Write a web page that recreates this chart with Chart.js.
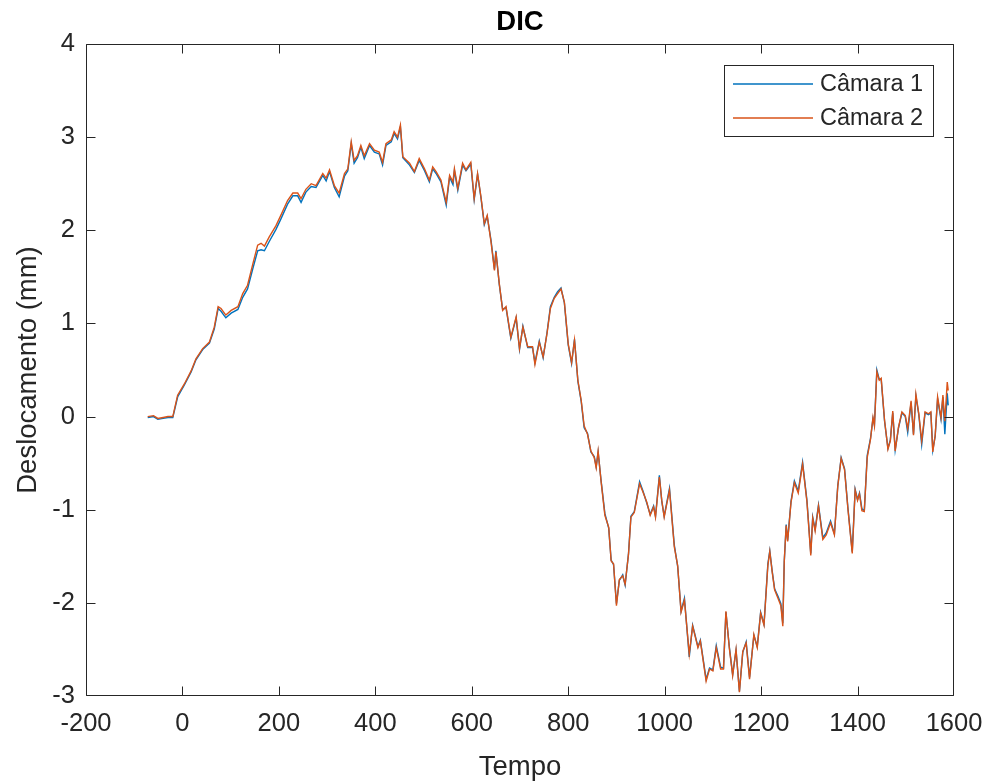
<!DOCTYPE html>
<html lang="pt">
<head>
    <meta charset="UTF-8">
    <title>DIC</title>
    <style>
        html, body { margin: 0; padding: 0; background: #ffffff; }
        .chart-container { width: 989px; height: 782px; }
    </style>
    <script src="https://cdn.jsdelivr.net/npm/chart.js@4.4.1/dist/chart.umd.min.js"></script>
</head>
<body>
    <div class="chart-container">
        <canvas id="dicChart" width="989" height="782"></canvas>
    </div>
    <script>
        // Tempo (eixo x)
        const tempo = [
            -72, -60, -51, -40, -30, -20, -10, 4, 18, 28,
            42, 56, 66, 74, 80, 90, 101, 115, 125, 135,
            146, 156, 163, 170, 180, 194, 204, 218, 229, 239,
            246, 256, 267, 277, 291, 298, 305, 315, 325, 336,
            343, 350, 356, 363, 370, 377, 388, 398, 408, 415,
            422, 433, 439, 446, 452, 457, 471, 481, 491, 502,
            512, 519, 526, 536, 547, 554, 561, 564, 571, 581,
            588, 598, 605, 612, 619, 626, 632, 640, 647, 650,
            657, 664, 671, 681, 692, 699, 706, 716, 726, 731,
            740, 748, 756, 763, 771, 778, 785, 792, 800, 807,
            813, 820, 827, 833, 840, 847, 854, 858, 862, 868,
            876, 884, 889, 894, 900, 906, 913, 918, 925, 930,
            937, 948, 955, 963, 970, 977, 981, 989, 994, 999,
            1010, 1020, 1027, 1034, 1041, 1051, 1058, 1069, 1074, 1086,
            1093, 1100, 1107, 1116, 1122, 1127, 1134, 1141, 1148, 1155,
            1162, 1169, 1176, 1185, 1192, 1199, 1206, 1214, 1218, 1223,
            1228, 1235, 1241, 1245, 1248, 1252, 1255, 1262, 1269, 1277,
            1286, 1295, 1303, 1307, 1312, 1319, 1328, 1335, 1344, 1352,
            1359, 1366, 1373, 1380, 1389, 1395, 1400, 1404, 1409, 1414,
            1420, 1427, 1432, 1435, 1440, 1445, 1449, 1456, 1463, 1468,
            1473, 1478, 1485, 1492, 1499, 1504, 1511, 1516, 1521, 1527,
            1533, 1540, 1547, 1552, 1556, 1561, 1566, 1573, 1577, 1581,
            1586, 1588
        ];

        // Deslocamento (mm) - Câmara 1
        const camara1 = [
            -0.01, 0, -0.03, -0.02, -0.01, -0.01, 0.21, 0.34, 0.48, 0.61,
            0.72, 0.79, 0.94, 1.16, 1.13, 1.06, 1.11, 1.15, 1.28, 1.37,
            1.59, 1.78, 1.79, 1.78, 1.88, 2.01, 2.12, 2.28, 2.37, 2.37,
            2.30, 2.41, 2.47, 2.46, 2.59, 2.53, 2.63, 2.46, 2.36, 2.58,
            2.64, 2.93, 2.72, 2.78, 2.89, 2.77, 2.91, 2.84, 2.82, 2.70,
            2.91, 2.95, 3.04, 2.98, 3.11, 2.78, 2.70, 2.62, 2.75, 2.64,
            2.52, 2.66, 2.61, 2.52, 2.27, 2.57, 2.49, 2.64, 2.43, 2.70,
            2.64, 2.71, 2.33, 2.60, 2.35, 2.06, 2.15, 1.89, 1.58, 1.78,
            1.42, 1.15, 1.17, 0.84, 1.06, 0.72, 0.97, 0.74, 0.74, 0.58,
            0.81, 0.63, 0.90, 1.18, 1.28, 1.34, 1.38, 1.22, 0.77, 0.57,
            0.83, 0.38, 0.16, -0.12, -0.18, -0.38, -0.43, -0.54, -0.38, -0.68,
            -1.04, -1.20, -1.54, -1.59, -2.01, -1.76, -1.70, -1.81, -1.47, -1.07,
            -1.02, -0.70, -0.80, -0.93, -1.05, -0.96, -1.07, -0.63, -0.91, -1.07,
            -0.77, -1.38, -1.61, -2.09, -1.95, -2.58, -2.24, -2.47, -2.40, -2.82,
            -2.70, -2.72, -2.46, -2.69, -2.70, -2.10, -2.47, -2.77, -2.51, -2.95,
            -2.53, -2.42, -2.80, -2.35, -2.47, -2.10, -2.23, -1.58, -1.44, -1.66,
            -1.85, -1.93, -2.01, -2.22, -1.56, -1.16, -1.33, -0.91, -0.69, -0.80,
            -0.49, -0.90, -1.47, -1.08, -1.21, -0.95, -1.30, -1.25, -1.12, -1.26,
            -0.74, -0.44, -0.56, -0.98, -1.45, -0.78, -0.89, -0.82, -0.99, -1.01,
            -0.42, -0.23, -0.02, -0.09, 0.50, 0.40, 0.40, -0.05, -0.34, -0.25,
            0.04, -0.36, -0.12, 0.04, 0.00, -0.17, 0.15, -0.19, 0.22, 0.02,
            -0.30, 0.04, 0.02, 0.04, -0.36, -0.21, 0.19, -0.03, 0.21, -0.19,
            0.25, 0.12
        ];

        // Deslocamento (mm) - Câmara 2
        const camara2 = [
            0, 0.01, -0.02, -0.01, 0, 0, 0.23, 0.35, 0.49, 0.62,
            0.73, 0.80, 0.96, 1.18, 1.16, 1.09, 1.14, 1.18, 1.32, 1.41,
            1.64, 1.84, 1.86, 1.83, 1.93, 2.05, 2.16, 2.32, 2.40, 2.40,
            2.34, 2.44, 2.50, 2.48, 2.61, 2.56, 2.65, 2.48, 2.40, 2.61,
            2.66, 2.95, 2.75, 2.80, 2.91, 2.80, 2.93, 2.86, 2.84, 2.73,
            2.93, 2.97, 3.06, 3.00, 3.13, 2.79, 2.72, 2.63, 2.77, 2.66,
            2.54, 2.68, 2.63, 2.54, 2.30, 2.59, 2.52, 2.66, 2.45, 2.72,
            2.65, 2.73, 2.34, 2.61, 2.36, 2.07, 2.16, 1.87, 1.57, 1.77,
            1.43, 1.14, 1.18, 0.85, 1.07, 0.73, 0.96, 0.75, 0.75, 0.56,
            0.80, 0.64, 0.89, 1.16, 1.27, 1.32, 1.37, 1.23, 0.78, 0.58,
            0.82, 0.39, 0.17, -0.10, -0.19, -0.37, -0.44, -0.55, -0.37, -0.69,
            -1.06, -1.19, -1.55, -1.58, -2.03, -1.75, -1.71, -1.80, -1.48, -1.08,
            -1.03, -0.72, -0.81, -0.92, -1.06, -0.97, -1.08, -0.65, -0.90, -1.08,
            -0.79, -1.40, -1.60, -2.10, -1.97, -2.55, -2.25, -2.48, -2.41, -2.84,
            -2.71, -2.73, -2.48, -2.71, -2.71, -2.09, -2.48, -2.78, -2.50, -2.96,
            -2.52, -2.43, -2.82, -2.34, -2.48, -2.11, -2.24, -1.60, -1.45, -1.67,
            -1.86, -1.95, -2.03, -2.25, -1.55, -1.17, -1.34, -0.92, -0.71, -0.82,
            -0.51, -0.91, -1.49, -1.09, -1.23, -0.96, -1.32, -1.27, -1.14, -1.27,
            -0.75, -0.45, -0.57, -0.99, -1.47, -0.79, -0.90, -0.83, -1.01, -1.02,
            -0.44, -0.24, -0.01, -0.10, 0.48, 0.39, 0.41, -0.04, -0.35, -0.26,
            0.06, -0.37, -0.11, 0.05, 0.01, -0.13, 0.17, -0.20, 0.24, 0.03,
            -0.26, 0.05, 0.03, 0.05, -0.38, -0.20, 0.21, -0.01, 0.23, -0.05,
            0.37, 0.28
        ];

        const xTicks = [-200, 0, 200, 400, 600, 800, 1000, 1200, 1400, 1600];
        const yTicks = [-3, -2, -1, 0, 1, 2, 3, 4];

        const FONT = '"Liberation Sans", Arial, Helvetica, sans-serif';
        const INK = '#262626';

        // MATLAB-style box with inward ticks on all four sides
        const boxPlugin = {
            id: 'matlabBox',
            afterDatasetsDraw(chart) {
                const { ctx, chartArea: a, scales: { x, y } } = chart;
                const len = 9;
                const L = Math.round(a.left) + 0.5, T = Math.round(a.top) + 0.5;
                const R = Math.round(a.right) - 0.5, B = Math.round(a.bottom) - 0.5;
                ctx.save();
                ctx.strokeStyle = INK;
                ctx.lineWidth = 1;
                ctx.beginPath();
                ctx.rect(L, T, R - L, B - T);
                xTicks.forEach(v => {
                    const px = Math.min(Math.max(Math.round(x.getPixelForValue(v)) + 0.5, L), R);
                    ctx.moveTo(px, B); ctx.lineTo(px, B - len);
                    ctx.moveTo(px, T); ctx.lineTo(px, T + len);
                });
                yTicks.forEach(v => {
                    const py = Math.min(Math.max(Math.round(y.getPixelForValue(v)) + 0.5, T), B);
                    ctx.moveTo(L, py); ctx.lineTo(L + len, py);
                    ctx.moveTo(R, py); ctx.lineTo(R - len, py);
                });
                ctx.stroke();
                ctx.restore();
            }
        };

        // legend box in the upper right corner of the axes
        const legendPlugin = {
            id: 'matlabLegend',
            afterDraw(chart) {
                const { ctx, chartArea: a } = chart;
                const bx = a.right - 230, by = a.top + 21, bw = 209, bh = 71;
                ctx.save();
                ctx.fillStyle = '#ffffff';
                ctx.fillRect(bx, by, bw, bh);
                ctx.strokeStyle = INK;
                ctx.lineWidth = 1;
                ctx.strokeRect(bx + 0.5, by + 0.5, bw, bh);
                ctx.font = '23.5px ' + FONT;
                ctx.textBaseline = 'middle';
                ctx.textAlign = 'left';
                chart.data.datasets.forEach((ds, i) => {
                    const ly = by + 19 + i * 34;
                    ctx.strokeStyle = ds.borderColor;
                    ctx.lineWidth = 1.3;
                    ctx.beginPath();
                    ctx.moveTo(bx + 9, ly); ctx.lineTo(bx + 89, ly);
                    ctx.stroke();
                    ctx.fillStyle = INK;
                    ctx.fillText(ds.label, bx + 96, ly + 1);
                });
                ctx.restore();
            }
        };

        const ctx = document.getElementById('dicChart').getContext('2d');
        new Chart(ctx, {
            type: 'line',
            data: {
                datasets: [
                    {
                        label: 'Câmara 1',
                        data: tempo.map((t, i) => ({ x: t, y: camara1[i] })),
                        borderColor: '#0072BD',
                        borderWidth: 1.4,
                        pointRadius: 0,
                        tension: 0,
                        fill: false,
                        order: 1
                    },
                    {
                        label: 'Câmara 2',
                        data: tempo.map((t, i) => ({ x: t, y: camara2[i] })),
                        borderColor: '#D95319',
                        borderWidth: 1.4,
                        pointRadius: 0,
                        tension: 0,
                        fill: false,
                        order: 0
                    }
                ]
            },
            options: {
                responsive: false,
                animation: false,
                layout: { padding: { left: 0, right: 35, top: 0, bottom: 0 } },
                scales: {
                    x: {
                        type: 'linear',
                        min: -200,
                        max: 1600,
                        afterBuildTicks: scale => { scale.ticks = xTicks.map(v => ({ value: v })); },
                        afterFit: scale => {
                            scale.height = 86;
                            scale.paddingLeft = 0;
                            scale.paddingRight = 0;
                        },
                        grid: { display: false, drawTicks: false },
                        border: { display: false },
                        ticks: {
                            color: INK,
                            padding: 13,
                            maxRotation: 0,
                            font: { family: FONT, size: 25.5 },
                            callback: v => String(v)
                        },
                        title: {
                            display: true,
                            text: 'Tempo',
                            color: INK,
                            font: { family: FONT, size: 27.5 },
                            padding: { top: 0, bottom: -1.5 }
                        }
                    },
                    y: {
                        type: 'linear',
                        min: -3,
                        max: 4,
                        afterBuildTicks: scale => { scale.ticks = yTicks.map(v => ({ value: v })); },
                        afterFit: scale => { scale.width = 86; },
                        grid: { display: false, drawTicks: false },
                        border: { display: false },
                        ticks: {
                            color: INK,
                            padding: 11,
                            font: { family: FONT, size: 25.5 },
                            callback: v => String(v)
                        },
                        title: {
                            display: true,
                            text: 'Deslocamento (mm)',
                            color: INK,
                            font: { family: FONT, size: 27.5 },
                            padding: { top: 11.5, bottom: 0 }
                        }
                    }
                },
                plugins: {
                    legend: { display: false },
                    tooltip: { enabled: false },
                    title: {
                        display: true,
                        text: 'DIC',
                        color: '#000000',
                        fullSize: false,
                        font: { family: FONT, size: 27.5, weight: 'bold' },
                        padding: { top: 5.5, bottom: 5.5 }
                    }
                }
            },
            plugins: [boxPlugin, legendPlugin]
        });
    </script>
</body>
</html>
